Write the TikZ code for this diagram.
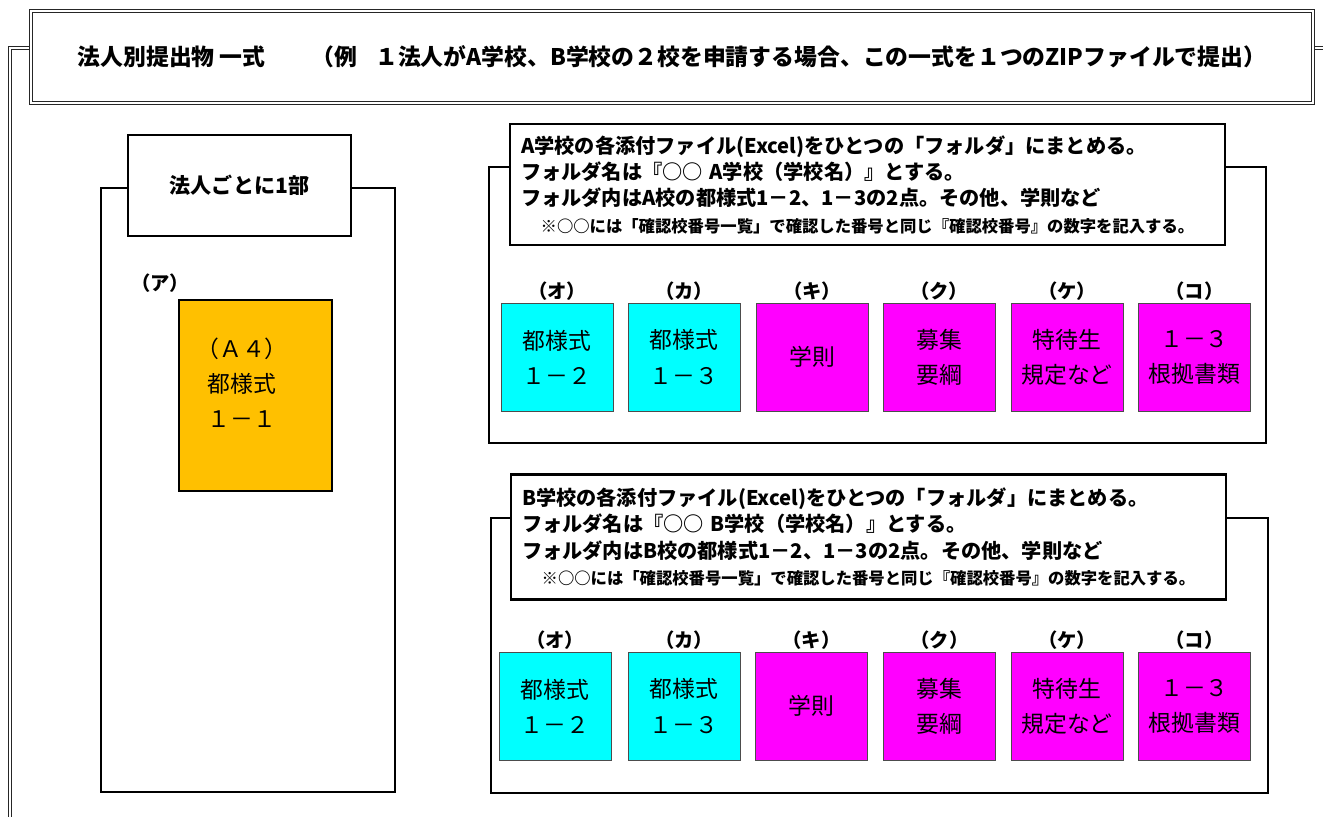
\documentclass[tikz,border=0pt]{standalone}
\usepackage{fontspec}
\setmainfont{Noto Sans CJK JP}
\usetikzlibrary{positioning}
\definecolor{formorange}{HTML}{FFC000}
\definecolor{formcyan}{HTML}{00FFFF}
\definecolor{formmagenta}{HTML}{FF00FF}

\begin{document}
\begin{tikzpicture}[x=0.02cm, y=-0.02cm,
    frame/.style={draw, line width=1.1pt},
    dblframe/.style={draw=black!85, line width=0.65pt, double=white, double distance=1.1pt},
    headbox/.style={draw, fill=white, line width=1.2pt, minimum width=14.3cm,
        minimum height=2.42cm, text width=13.86cm, inner xsep=0.22cm, align=left,
        font=\fontsize{11.5}{15}\selectfont\bfseries},
    cell/.style={draw=black!70, line width=0.5pt, minimum width=2.24cm,
        minimum height=2.16cm, inner sep=0pt, align=center,
        font=\fontsize{13}{20}\selectfont},
    cyancell/.style={cell, fill=formcyan},
    magcell/.style={cell, fill=formmagenta},
    tag/.style={inner sep=0pt, font=\fontsize{11}{13}\selectfont\bfseries}]
    \useasboundingbox (0,0) rectangle (1323,816);
    \clip (0,0) rectangle (1323,816);

    % outer frame and title
    \draw[dblframe] (10,48) rectangle (1400,900);
    \node[dblframe, fill=white, minimum width=25.66cm, minimum height=1.84cm,
        font=\fontsize{13}{15}\selectfont\bfseries] (title) at (672,57)
        {法人別提出物 一式\hspace{2em}（例\hspace{0.8em}１法人がA学校、B学校の２校を申請する場合、この一式を１つのZIPファイルで提出）};

    % one set per corporation
    \draw[frame] (101,188) rectangle (395,792);
    \node[draw, fill=white, line width=1pt, minimum width=4.46cm, minimum height=2.02cm,
        font=\fontsize{12}{14}\selectfont\bfseries] (percorp) at (239.5,185.5) {法人ごとに1部};
    \node[tag] (tagA) at (160,283) {（ア）};
    \node[draw, line width=0.8pt, fill=formorange, minimum width=3.06cm, minimum height=3.82cm] (form11) at (255.5,395.5) {};
    \node[align=center, font=\fontsize{13}{20}\selectfont] (form11txt) at (242,383) {（Ａ４）\\都様式\\１－１};

    % school A folder
    \draw[frame] (489,167) rectangle (1266,443);
    \node[headbox] (headA) at (867.5,184.5) {A学校の各添付ファイル(Excel)をひとつの「フォルダ」にまとめる。\\
        フォルダ名は『○○ A学校（学校名）』とする。\\
        フォルダ内はA校の都様式1－2、1－3の2点。その他、学則など\\
        {\fontsize{9.3}{15}\selectfont\hspace*{1.2em}※○○には「確認校番号一覧」で確認した番号と同じ『確認校番号』の数字を記入する。}};
    \node[cyancell] (a1) at (557,357) {都様式\\１－２};
    \node[cyancell] (a2) at (684,357) {都様式\\１－３};
    \node[magcell] (a3) at (812,357) {学則};
    \node[magcell] (a4) at (939,357) {募集\\要綱};
    \node[magcell] (a5) at (1067,357) {特待生\\規定など};
    \node[magcell] (a6) at (1194.5,357) {１－３\\根拠書類};
    \node[tag, above=0.03cm of a1] (ta1) {（オ）};
    \node[tag, above=0.03cm of a2] (ta2) {（カ）};
    \node[tag, above=0.03cm of a3] (ta3) {（キ）};
    \node[tag, above=0.03cm of a4] (ta4) {（ク）};
    \node[tag, above=0.03cm of a5] (ta5) {（ケ）};
    \node[tag, above=0.03cm of a6] (ta6) {（コ）};

    % school B folder
    \draw[frame] (491,518) rectangle (1268,793);
    \node[headbox, minimum height=2.5cm] (headB) at (868.5,537) {B学校の各添付ファイル(Excel)をひとつの「フォルダ」にまとめる。\\
        フォルダ名は『○○ B学校（学校名）』とする。\\
        フォルダ内はB校の都様式1－2、1－3の2点。その他、学則など\\
        {\fontsize{9.3}{15}\selectfont\hspace*{1.2em}※○○には「確認校番号一覧」で確認した番号と同じ『確認校番号』の数字を記入する。}};
    \node[cyancell] (b1) at (555,706) {都様式\\１－２};
    \node[cyancell] (b2) at (684,706) {都様式\\１－３};
    \node[magcell] (b3) at (811.5,706) {学則};
    \node[magcell] (b4) at (939.5,706) {募集\\要綱};
    \node[magcell] (b5) at (1067,706) {特待生\\規定など};
    \node[magcell] (b6) at (1194.5,706) {１－３\\根拠書類};
    \node[tag, above=0.03cm of b1] (tb1) {（オ）};
    \node[tag, above=0.03cm of b2] (tb2) {（カ）};
    \node[tag, above=0.03cm of b3] (tb3) {（キ）};
    \node[tag, above=0.03cm of b4] (tb4) {（ク）};
    \node[tag, above=0.03cm of b5] (tb5) {（ケ）};
    \node[tag, above=0.03cm of b6] (tb6) {（コ）};

\end{tikzpicture}
\end{document}
